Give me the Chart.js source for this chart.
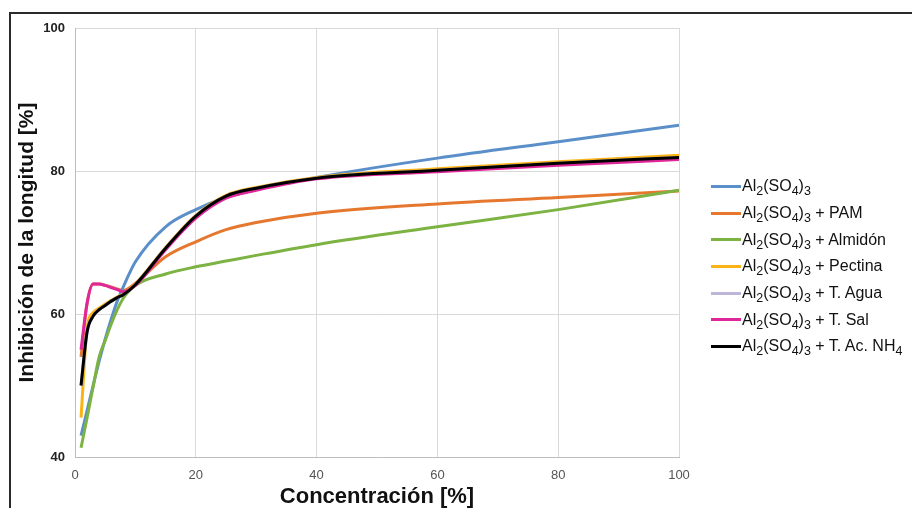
<!DOCTYPE html>
<html>
<head>
<meta charset="utf-8">
<script src="https://cdn.jsdelivr.net/npm/chart.js@4.4.0/dist/chart.umd.min.js"></script>
<style>
  html, body { margin: 0; padding: 0; background: #fff; }
  #frame { position: absolute; left: 9px; top: 12px; width: 940px; height: 540px;
           border-top: 2px solid #2a2a2a; border-left: 2px solid #2a2a2a; }
  #wrap { position: absolute; left: 0; top: 0; width: 912px; height: 508px; }
  #legend { position: absolute; left: 711px; top: 173px;
            font-family: 'Liberation Sans', Arial, sans-serif; font-size: 16px; color: #111; }
  .item { height: 26.7px; display: flex; align-items: center; white-space: nowrap; }
  .swatch { width: 30px; height: 3px; margin-right: 1px; }
  sub { font-size: 78%; vertical-align: -0.3em; line-height: 0; }
</style>
</head>
<body>
<div id="frame"></div>
<div id="wrap"><canvas id="chart" width="912" height="508"></canvas></div>
<div id="legend"></div>
<script>
// Concentración [%] (x) and inhibición de la longitud [%] (y)
const concentracion = [1, 2, 3, 4, 5, 6, 7, 8, 10, 15, 20, 25, 30, 40, 60, 80, 100];

const alSulfato  = [43, 46.5, 50, 53.4, 56.5, 59.3, 61.8, 63.8, 67.3, 72.2, 74.6, 76.3, 77.4, 79.1, 81.8, 84.1, 86.4];
const conPAM     = [54, 61.5, 64.2, 64.2, 64, 63.8, 63.5, 63.3, 64.3, 68, 70.1, 71.8, 72.8, 74.1, 75.4, 76.3, 77.2];
const conAlmidon = [41.3, 45.5, 49.8, 54, 56.3, 58.6, 60.6, 62.2, 64, 65.6, 66.6, 67.4, 68.2, 69.7, 72.2, 74.6, 77.3];
const conPectina = [45.5, 58, 60.2, 60.8, 61.4, 61.9, 62.4, 62.8, 64.2, 69.3, 73.8, 76.6, 77.7, 79.1, 80.3, 81.3, 82.2];
const conTAgua   = [50, 57.5, 59.7, 60.6, 61.2, 61.8, 62.3, 62.7, 64.1, 69.2, 73.7, 76.5, 77.6, 79, 80.1, 81.1, 81.9];
const conTSal    = [55, 61.5, 64.2, 64.2, 64, 63.7, 63.4, 63.1, 64, 69, 73.4, 76.2, 77.3, 78.9, 79.9, 80.8, 81.6];
const conTAcNH4  = [50, 57.5, 59.7, 60.6, 61.2, 61.8, 62.3, 62.7, 64.1, 69.2, 73.7, 76.5, 77.6, 79, 80.1, 81.1, 81.9];

const seriesNames = [
    'Al2(SO4)3',
    'Al2(SO4)3 + PAM',
    'Al2(SO4)3 + Almidón',
    'Al2(SO4)3 + Pectina',
    'Al2(SO4)3 + T. Agua',
    'Al2(SO4)3 + T. Sal',
    'Al2(SO4)3 + T. Ac. NH4'
];
const seriesValues = [alSulfato, conPAM, conAlmidon, conPectina, conTAgua, conTSal, conTAcNH4];
const seriesColors = ['#5b8fc9', '#e5772f', '#7cb342', '#fbb416', '#bdb6d6', '#e0279a', '#000000'];
// drawing order: lower number ends up on top
const seriesOrder = [5, 6, 4, 3, 2, 1, 0];

const xTicks = [0, 20, 40, 60, 80, 100];
const yTicks = [40, 60, 80, 100];

const narrow = "'Liberation Sans Narrow', 'Liberation Sans', Arial, sans-serif";
const sans = "'Liberation Sans', Arial, sans-serif";

const datasets = seriesNames.map((name, i) => ({
    label: name,
    data: concentracion.map((x, j) => ({ x: x, y: seriesValues[i][j] })),
    borderColor: seriesColors[i],
    backgroundColor: seriesColors[i],
    borderWidth: 3,
    pointRadius: 0,
    cubicInterpolationMode: 'monotone',
    order: seriesOrder[i]
}));

new Chart(document.getElementById('chart').getContext('2d'), {
    type: 'line',
    data: { datasets: datasets },
    options: {
        responsive: false,
        animation: false,
        layout: { padding: { top: 28, right: 233, left: 0, bottom: 0 } },
        plugins: { legend: { display: false }, tooltip: { enabled: false } },
        scales: {
            x: {
                type: 'linear',
                min: 0, max: 100,
                afterFit: (scale) => { scale.height = 51; },
                afterBuildTicks: (scale) => { scale.ticks = xTicks.map(v => ({ value: v })); },
                grid: { color: '#d9d9d9', drawTicks: false },
                border: { color: '#bdbdbd', width: 1 },
                ticks: { padding: 11, color: '#555', font: { family: narrow, size: 13 } },
                title: {
                    display: true, text: 'Concentración [%]', color: '#111',
                    font: { family: sans, size: 22, weight: 'bold', lineHeight: 1 },
                    padding: { top: 0, bottom: 0 }
                }
            },
            y: {
                min: 40, max: 100,
                afterFit: (scale) => { scale.width = 75; },
                afterBuildTicks: (scale) => { scale.ticks = yTicks.map(v => ({ value: v })); },
                grid: { color: '#d9d9d9', drawTicks: false },
                border: { color: '#bdbdbd', width: 1 },
                ticks: { padding: 10, color: '#222', font: { family: narrow, size: 13, weight: 'bold' } },
                title: {
                    display: true, text: 'Inhibición de la longitud [%]', color: '#111',
                    font: { family: sans, size: 21, weight: 'bold', lineHeight: 1 },
                    padding: { top: 17, bottom: 0 }
                }
            }
        }
    }
});

// legend with real subscripts
const legend = document.getElementById('legend');
seriesNames.forEach((name, i) => {
    const row = document.createElement('div');
    row.className = 'item';
    const sw = document.createElement('span');
    sw.className = 'swatch';
    sw.style.background = seriesColors[i];
    const txt = document.createElement('span');
    txt.innerHTML = name.replace(/([A-Za-z)])(\d)/g, '$1<sub>$2</sub>');
    row.appendChild(sw);
    row.appendChild(txt);
    legend.appendChild(row);
});
</script>
</body>
</html>
